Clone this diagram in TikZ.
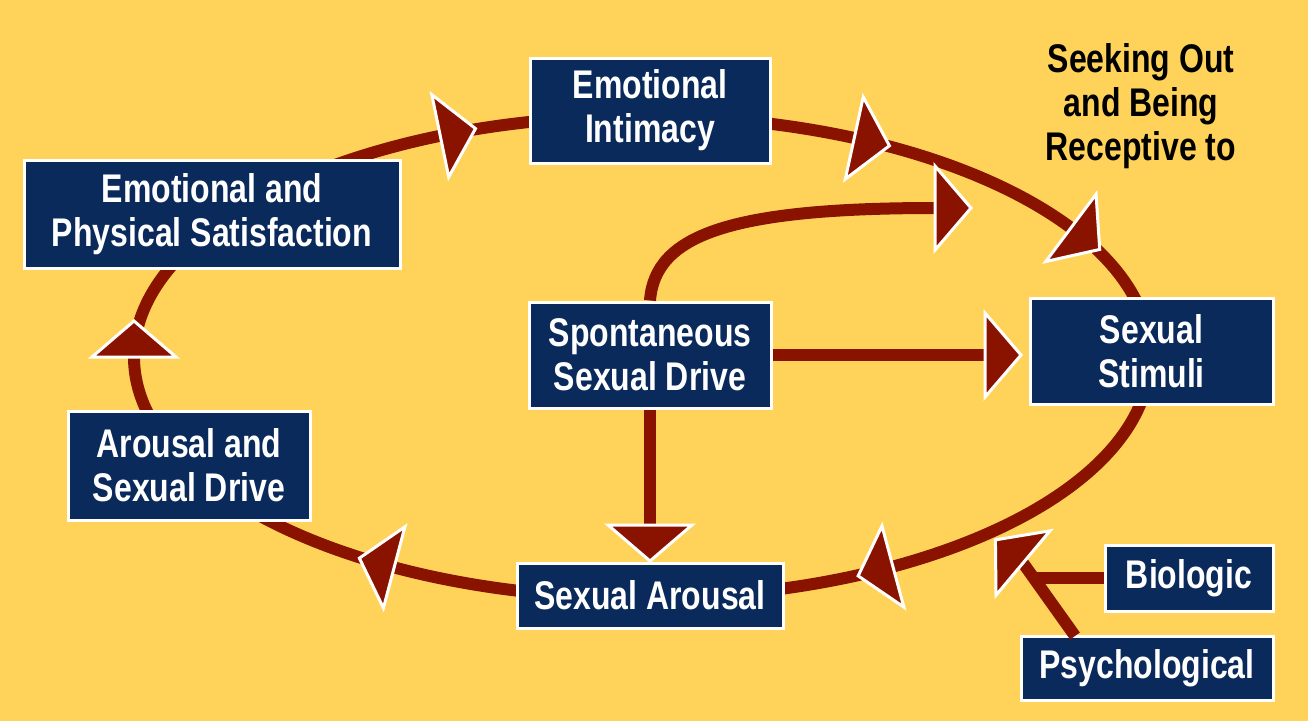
\documentclass[tikz,border=0pt]{standalone}
\usepackage{fontspec}
\setmainfont{Liberation Sans}[FakeStretch=0.80]
\definecolor{bg}{HTML}{FFD35A}
\definecolor{navy}{HTML}{0B2A5C}
\definecolor{dred}{HTML}{8A1300}
\tikzset{
  box/.style={draw=white, line width=3pt, fill=navy, text=white,
    font=\bfseries\fontsize{40}{44}\selectfont, align=center, inner sep=0pt},
  redline/.style={draw=dred, line width=12pt},
  arrowtri/.style={fill=dred, draw=white, line width=3pt, line join=miter},
  label/.style={text=black, font=\bfseries\fontsize{40}{44}\selectfont, align=center, inner sep=0pt}
}
\newcommand{\tri}[3]{%
  \begin{scope}[shift={(#1,#2)}, rotate=#3]
    \path[arrowtri] (36,0) -- (0,-42) -- (0,42) -- cycle;
  \end{scope}}
\newcommand{\cyc}[1]{%
  \pgfmathsetmacro{\cbx}{642+508*cos(#1)}%
  \pgfmathsetmacro{\cby}{357+241*sin(#1)}%
  \pgfmathsetmacro{\cang}{atan2(-241*cos(#1),-508*sin(#1))}%
  \tri{\cbx}{\cby}{\cang}}
\begin{document}
\begin{tikzpicture}[x=1pt, y=-1pt]
  \fill[bg] (0,0) rectangle (1308,721);
  \useasboundingbox (0,0) rectangle (1308,721);
  % main cycle
  \draw[redline] (642,357) ellipse [x radius=508pt, y radius=241pt];
  % nodes
  \node[box, minimum width=240pt, minimum height=105pt] (ei) at (650,110.5) {Emotional\\Intimacy};
  \node[box, minimum width=376pt, minimum height=108pt] (eps) at (212,214) {Emotional and\\Physical Satisfaction};
  \node[box, minimum width=242pt, minimum height=106pt] (ssd) at (650,355) {Spontaneous\\Sexual Drive};
  \node[box, minimum width=243pt, minimum height=106pt] (ss) at (1151.5,351) {Sexual\\Stimuli};
  \node[box, minimum width=242pt, minimum height=109pt] (asd) at (189,465.5) {Arousal and\\Sexual Drive};
  \node[box, minimum width=266pt, minimum height=65pt] (sa) at (650,595.5) {Sexual Arousal};
  \node[box, minimum width=168pt, minimum height=66pt] (bio) at (1189,578) {Biologic};
  \node[box, minimum width=252pt, minimum height=64pt] (psy) at (1147,668) {Psychological};
  \node[label] (seek) at (1141,106) {Seeking Out\\and Being\\Receptive to};
  % coordinates for free connector ends
  \coordinate (curveend) at (935,208);
  \coordinate (ssbase) at (985,355);
  \coordinate (sabase) at (650,525);
  \coordinate (pstart) at (1075,636);
  \coordinate (pbase) at (1023,563);
  \coordinate (merge) at (1034,578);
  % connectors
  \draw[redline] (ssd.north) .. controls (655,235) and (730,208) .. (curveend);
  \draw[redline] (ssd.east |- ssbase) -- (ssbase);
  \draw[redline] (ssd.south) -- (sabase);
  \draw[redline] (pstart) -- (pbase);
  \draw[redline] (bio.west) -- (merge);
  % arrowheads
  \tri{935}{208}{0}
  \tri{985}{355}{0}
  \tri{650}{525}{-90}
  \tri{1023}{563}{140}
  \cyc{246.6}
  \cyc{-65.3}
  \cyc{-32.4}
  \cyc{60.4}
  \cyc{119.2}
  \cyc{180}
\end{tikzpicture}
\end{document}
